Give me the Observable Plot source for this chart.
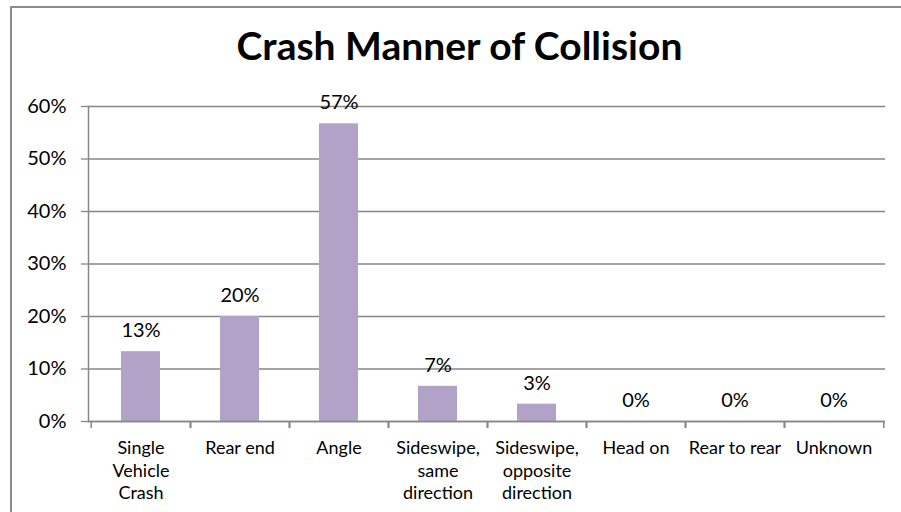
<!DOCTYPE html>
<html><head><meta charset="utf-8">
<script src="https://cdn.jsdelivr.net/npm/d3@7"></script>
<script src="https://cdn.jsdelivr.net/npm/@observablehq/plot@0.6"></script>
<style>
body{margin:0;background:#fff;overflow:hidden;}
#wrap{position:relative;width:901px;height:512px;font-family:Lato,sans-serif;overflow:hidden;}
#border{position:absolute;left:10px;top:6px;width:1000px;height:1000px;border-left:2px solid #8c8c8c;border-top:2px solid #8c8c8c;}
#title{position:absolute;left:0;width:919px;top:26px;text-align:center;font-weight:bold;font-size:39px;line-height:1;color:#000;font-family:Lato,sans-serif;}
#chart{position:absolute;left:0;top:0;}
</style></head>
<body>
<div id="wrap">
<div id="border"></div>
<div id="chart"></div>
<div id="title">Crash Manner of Collision</div>
</div>
<script>
const categories = ["Single\nVehicle\nCrash","Rear end","Angle","Sideswipe,\nsame\ndirection","Sideswipe,\nopposite\ndirection","Head on","Rear to rear","Unknown"];
const shares = [0.133, 0.2, 0.567, 0.067, 0.033, 0, 0, 0];
const yTicks = [0, 0.1, 0.2, 0.3, 0.4, 0.5, 0.6];

const data = categories.map((c, i) => ({category: c, share: shares[i]}));
const W = 901, H = 512, mL = 88, mR = 16;
const bw = (W - mL - mR) / categories.length;
const grey = "#868686";

const plot = Plot.plot({
  width: W, height: H,
  marginTop: 106, marginBottom: 91, marginLeft: mL, marginRight: mR,
  style: {fontFamily: "Lato, sans-serif", background: "transparent", color: "#000"},
  x: {domain: categories, padding: 0, axis: null, label: null},
  y: {domain: [0, 0.6], axis: null, label: null},
  marks: [
    Plot.gridY(yTicks, {stroke: grey, strokeOpacity: 1, strokeWidth: 1.3}),
    Plot.axisY(yTicks, {tickSize: 7, tickPadding: 15, stroke: grey, strokeWidth: 1.3, tickFormat: d3.format(".0%"), fontSize: 20, fill: "#000", label: null}),
    Plot.barY(data, {x: "category", y: "share", fill: "#B3A2C7", insetLeft: 30, insetRight: 30}),
    Plot.frame({anchor: "left", stroke: grey, strokeWidth: 1.5}),
    Plot.ruleY([0], {stroke: grey, strokeWidth: 1.5}),
    Plot.axisX({tickSize: 7, stroke: grey, strokeWidth: 1.5, fill: "none", dx: -bw / 2, label: null}),
    Plot.axisX({tickSize: 7, stroke: grey, strokeWidth: 1.5, fill: "none", dx: bw / 2, label: null}),
    Plot.axisX({tickSize: 0, tickPadding: 17, fontSize: 18, lineHeight: 1.25, fill: "#000", label: null}),
    Plot.text(data, {x: "category", y: "share", text: d => Math.round(d.share * 100) + "%", dy: -21, lineAnchor: "middle", fontSize: 20, fill: "#000"})
  ]
});
document.getElementById("chart").appendChild(plot);
</script>
</body></html>
